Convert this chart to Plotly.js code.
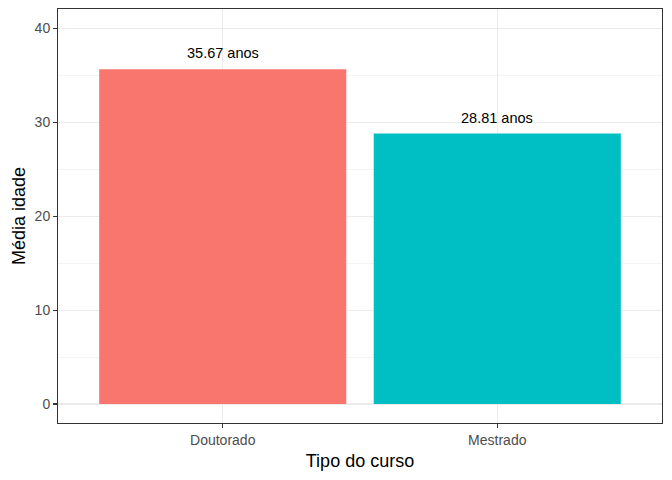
<!DOCTYPE html>
<html>
<head>
<meta charset="utf-8">
<script src="https://cdn.plot.ly/plotly-3.0.1.min.js"></script>
<style>html,body{margin:0;padding:0;background:#fff;}#chart{width:672px;height:480px;}</style>
</head>
<body>
<div id="chart"></div>
<script>
const categories = ["Doutorado", "Mestrado"];
const meanAge = [35.67, 28.81];
const barColors = ["#F8766D", "#00BFC4"];
const labels = meanAge.map(v => v.toFixed(2) + " anos");

const trace = {
  type: "bar",
  x: categories,
  y: meanAge,
  width: 0.9,
  marker: {color: barColors, line: {width: 0}},
  hoverinfo: "none"
};

const annotations = categories.map((c, i) => ({
  x: c, y: meanAge[i], xref: "x", yref: "y",
  text: labels[i], showarrow: false,
  yanchor: "middle", yshift: 16,
  font: {family: "Liberation Sans, Arial, sans-serif", size: 14.5, color: "#000000"}
}));

const layout = {
  width: 672, height: 480,
  margin: {l: 58, r: 10, t: 9, b: 57},
  paper_bgcolor: "#ffffff", plot_bgcolor: "#ffffff",
  showlegend: false,
  font: {family: "Liberation Sans, Arial, sans-serif"},
  xaxis: {
    type: "category",
    range: [-0.6, 1.6],
    showgrid: true, gridcolor: "#EBEBEB", gridwidth: 1.1,
    zeroline: false,
    showline: true, linecolor: "#333333", linewidth: 1, mirror: true,
    ticks: "outside", ticklen: 4, tickcolor: "#333333", tickwidth: 1.1,
    tickfont: {size: 14, color: "#4D4D4D"},
    title: {text: "Tipo do curso", font: {size: 18, color: "#000000"}, standoff: 7}
  },
  yaxis: {
    range: [-2.02, 42.08],
    tickvals: [0, 10, 20, 30, 40],
    showgrid: true, gridcolor: "#EBEBEB", gridwidth: 1.1,
    minor: {tickvals: [5, 15, 25, 35], showgrid: true, gridcolor: "#EBEBEB", gridwidth: 0.55, ticks: ""},
    zeroline: false,
    showline: true, linecolor: "#333333", linewidth: 1, mirror: true,
    ticks: "outside", ticklen: 4, tickcolor: "#333333", tickwidth: 1.1,
    tickfont: {size: 14, color: "#4D4D4D"},
    title: {text: "Média idade", font: {size: 18, color: "#000000"}, standoff: 4}
  },
  annotations: annotations
};

Plotly.newPlot("chart", [trace], layout, {displayModeBar: false, staticPlot: true});
</script>
</body>
</html>
